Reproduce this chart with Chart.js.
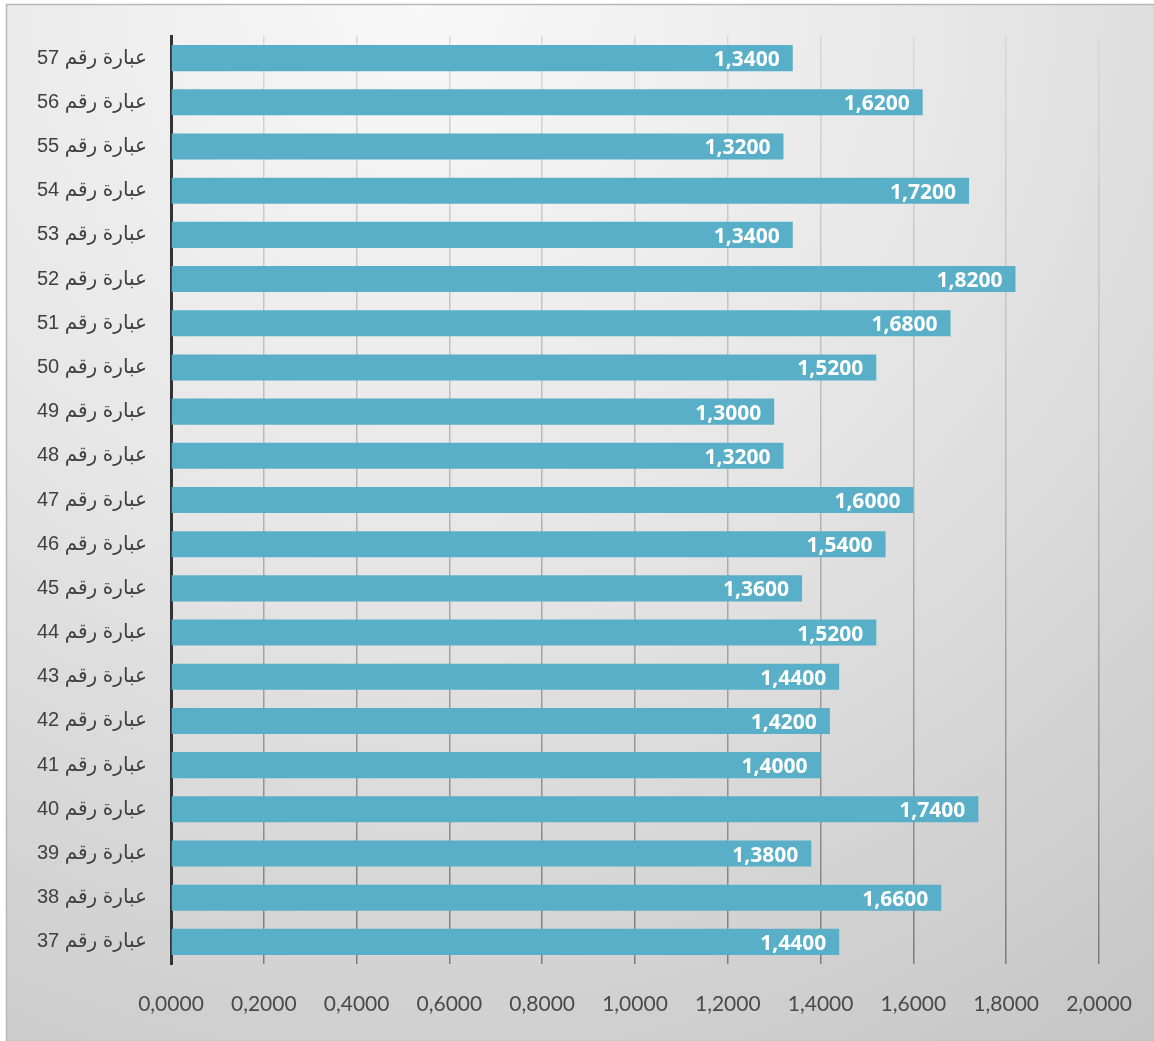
<!DOCTYPE html>
<html>
<head>
<meta charset="utf-8">
<title>عبارات</title>
<script src="https://cdn.jsdelivr.net/npm/chart.js@4.4.1/dist/chart.umd.min.js"></script>
<style>
  html, body { margin: 0; padding: 0; background: #ffffff; }
  #chart { display: block; }
</style>
</head>
<body>
<canvas id="chart" width="1154" height="1041"></canvas>
<script>
// Statement numbers, listed top to bottom
const statementNumbers = [57, 56, 55, 54, 53, 52, 51, 50, 49, 48, 47, 46, 45, 44, 43, 42, 41, 40, 39, 38, 37];
const categoryLabels = statementNumbers.map(n => 'عبارة رقم ' + n);

// Mean score for each statement, same order
const meanValues = [1.34, 1.62, 1.32, 1.72, 1.34, 1.82, 1.68, 1.52, 1.30, 1.32, 1.60, 1.54, 1.36, 1.52, 1.44, 1.42, 1.40, 1.74, 1.38, 1.66, 1.44];

// Value axis range
const axisMin = 0;
const axisMax = 2;
const axisStep = 0.2;

// Decimal comma, four places
const fmt = v => Number(v).toFixed(4).replace('.', ',');

// Grey panel with a soft radial shading behind the chart
const panelBackground = {
  id: 'panelBackground',
  beforeDraw(chart) {
    const { ctx, width, height } = chart;
    ctx.save();
    ctx.fillStyle = '#ffffff';
    ctx.fillRect(0, 0, width, height);
    const g = ctx.createRadialGradient(420, 0, 0, 420, 0, 1250);
    g.addColorStop(0, '#f8f8f8');
    g.addColorStop(0.45, '#e6e6e6');
    g.addColorStop(1, '#c6c6c6');
    ctx.fillStyle = g;
    ctx.fillRect(6, 4, width - 6, height - 4);
    ctx.strokeStyle = '#b8b8b8';
    ctx.lineWidth = 1.5;
    ctx.strokeRect(6.5, 4.5, width - 6, height - 4);
    ctx.restore();
  }
};

// White value text inside the end of each bar
const barValueLabels = {
  id: 'barValueLabels',
  afterDatasetsDraw(chart) {
    const { ctx } = chart;
    const meta = chart.getDatasetMeta(0);
    const data = chart.data.datasets[0].data;
    ctx.save();
    ctx.font = 'bold 21px "Open Sans", "DejaVu Sans", sans-serif';
    ctx.fillStyle = '#ffffff';
    ctx.textAlign = 'right';
    ctx.textBaseline = 'middle';
    meta.data.forEach((bar, i) => {
      ctx.fillText(fmt(data[i]), bar.x - 13, bar.y + 2);
    });
    ctx.restore();
  }
};

new Chart(document.getElementById('chart'), {
  type: 'bar',
  data: {
    labels: categoryLabels,
    datasets: [{
      data: meanValues,
      backgroundColor: '#58afc7',
      borderWidth: 0,
      barPercentage: 0.59,
      categoryPercentage: 1.0
    }]
  },
  options: {
    indexAxis: 'y',
    responsive: false,
    devicePixelRatio: 1,
    animation: false,
    layout: { padding: { top: 34, right: 55, bottom: 0, left: 0 } },
    plugins: {
      legend: { display: false },
      tooltip: { enabled: false }
    },
    scales: {
      x: {
        type: 'linear',
        position: 'bottom',
        min: axisMin,
        max: axisMax,
        afterFit(scale) {
          scale.height = 77;
          scale.paddingLeft = 0;
          scale.paddingRight = 0;
        },
        ticks: {
          stepSize: axisStep,
          padding: 28,
          color: '#4a4a4a',
          font: { family: 'Lato, "Open Sans", sans-serif', size: 21 },
          callback: v => fmt(v)
        },
        grid: {
          drawTicks: false,
          lineWidth: 1.5,
          color(ctx) {
            const area = ctx.chart.chartArea;
            if (!area) return '#b0b0b0';
            const g = ctx.chart.ctx.createLinearGradient(0, area.top, 0, area.bottom);
            g.addColorStop(0, '#d8d8d8');
            g.addColorStop(0.5, '#b4b4b4');
            g.addColorStop(1, '#7c7c7c');
            return g;
          }
        },
        border: { display: false }
      },
      y: {
        type: 'category',
        afterFit(scale) { scale.width = 171; },
        ticks: {
          padding: 24,
          color: '#404040',
          font: { family: '"Liberation Sans", Arial, "DejaVu Sans", sans-serif', size: 20 }
        },
        grid: { display: false, drawTicks: false },
        border: { display: true, color: '#333333', width: 3 }
      }
    }
  },
  plugins: [panelBackground, barValueLabels]
});
</script>
</body>
</html>
